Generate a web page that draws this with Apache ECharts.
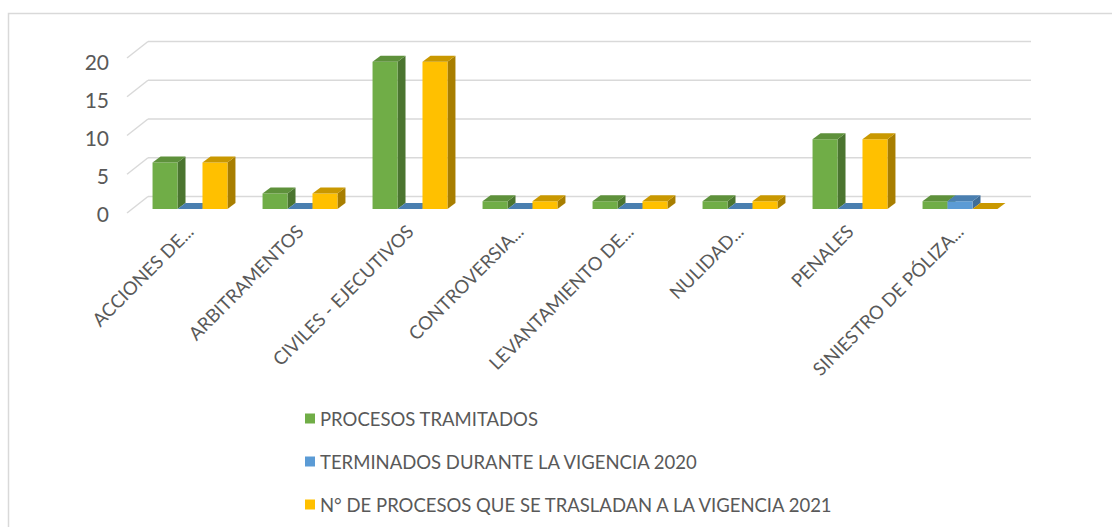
<!DOCTYPE html>
<html>
<head>
<meta charset="utf-8">
<script src="https://cdn.jsdelivr.net/npm/echarts@6/dist/echarts.min.js"></script>
<style>
  html, body { margin: 0; padding: 0; background: #fff; }
  #chart { width: 1112px; height: 527px; }
</style>
</head>
<body>
<div id="chart"></div>
<script>
const categories = [
  'ACCIONES DE...',
  'ARBITRAMENTOS',
  'CIVILES - EJECUTIVOS',
  'CONTROVERSIA...',
  'LEVANTAMIENTO DE...',
  'NULIDAD...',
  'PENALES',
  'SINIESTRO DE PÓLIZA...',
];
const tramitados = [6, 2, 19, 1, 1, 1, 9, 1];
const terminados = [0, 0, 0, 0, 0, 0, 0, 1];
const trasladan = [6, 2, 19, 1, 1, 1, 9, 0];
const yTicks = [0, 5, 10, 15, 20];

const seriesNames = [
  'PROCESOS TRAMITADOS',
  'TERMINADOS DURANTE LA VIGENCIA 2020',
  'N° DE PROCESOS QUE SE TRASLADAN A LA VIGENCIA 2021',
];
// front, side, top
const shades = [
  ['#70AD47', '#4B7530', '#5E913B'],
  ['#5B9BD5', '#3F6D97', '#4A7FB0'],
  ['#FFC000', '#A87E00', '#C99800'],
];

const DX = 8, DY = 6;
const FONT = 'Lato';

function prism(slot) {
  return function (params, api) {
    const cat = api.value(0);
    const val = api.value(1);
    const base = api.coord([cat, 0]);
    const top = api.coord([cat, val]);
    const bw = api.size([1, 0])[0] * 0.227;
    const x0 = base[0] + (slot - 1.5) * bw;
    const x1 = x0 + bw;
    const yb = base[1], yt = top[1];
    const c = shades[slot];
    const children = [];
    if (yb - yt > 0.5) {
      children.push({
        type: 'polygon',
        shape: { points: [[x1, yt], [x1 + DX, yt - DY], [x1 + DX, yb - DY], [x1, yb]] },
        style: { fill: c[1] },
      });
      children.push({
        type: 'rect',
        shape: { x: x0, y: yt, width: bw, height: yb - yt },
        style: { fill: c[0] },
      });
    }
    children.push({
      type: 'polygon',
      shape: { points: [[x0, yt], [x0 + DX, yt - DY], [x1 + DX, yt - DY], [x1, yt]] },
      style: { fill: c[2] },
    });
    return { type: 'group', children };
  };
}

// back wall gridline + floor slant + front tick label
function gridWall(params, api) {
  const cs = params.coordSys;
  const v = api.value(1);
  const y = api.coord([0, v])[1];
  return {
    type: 'group',
    children: [
      {
        type: 'line',
        shape: { x1: cs.x + 13, y1: y - 12.5, x2: cs.x + cs.width + 16, y2: y - 12.5 },
        style: { stroke: '#d9d9d9', lineWidth: 1.5 },
      },
      {
        type: 'line',
        shape: { x1: cs.x - 8, y1: y + 4, x2: cs.x + 13, y2: y - 12.5 },
        style: { stroke: '#d9d9d9', lineWidth: 1.5 },
      },
      {
        type: 'text',
        style: {
          text: String(v),
          x: cs.x - 26,
          y: y + 4 + (v / 20) * 3,
          align: 'right',
          verticalAlign: 'middle',
          fontSize: 21,
          fontFamily: FONT,
          fill: '#595959',
        },
      },
    ],
  };
}

const chart = echarts.init(document.getElementById('chart'), null, { renderer: 'svg' });

chart.setOption({
  backgroundColor: '#ffffff',
  animation: false,
  textStyle: { fontFamily: FONT },
  graphic: [
    {
      type: 'rect',
      left: 6, top: 11,
      shape: { width: 1200, height: 600 },
      style: { fill: 'none', stroke: '#d9d9d9', lineWidth: 1.5 },
      silent: true,
    },
  ],
  grid: { left: 135, right: 97, top: 54, bottom: 318 },
  xAxis: {
    type: 'category',
    data: categories,
    axisLine: { show: false },
    axisTick: { show: false },
    axisLabel: {
      rotate: 45,
      interval: 0,
      margin: 19,
      fontSize: 18.5,
      color: '#595959',
      fontFamily: FONT,
    },
  },
  yAxis: {
    type: 'value',
    min: 0,
    max: 20,
    interval: 5,
    axisLine: { show: false },
    axisTick: { show: false },
    splitLine: { show: false },
    axisLabel: { show: false },
  },
  legend: {
    orient: 'vertical',
    left: 300,
    top: 404,
    itemWidth: 10,
    itemHeight: 10,
    itemGap: 24,
    icon: 'rect',
    textStyle: { fontSize: 18.5, color: '#595959', fontFamily: FONT },
    data: seriesNames,
  },
  series: [
    {
      type: 'custom',
      name: 'grid',
      renderItem: gridWall,
      data: yTicks.map((v) => [0, v]),
      encode: { x: 0, y: 1 },
      z: 1,
      silent: true,
    },
    {
      type: 'custom',
      name: seriesNames[0],
      renderItem: prism(0),
      itemStyle: { color: shades[0][0] },
      data: tramitados.map((v, i) => [i, v]),
      encode: { x: 0, y: 1 },
      z: 2,
    },
    {
      type: 'custom',
      name: seriesNames[1],
      renderItem: prism(1),
      itemStyle: { color: shades[1][0] },
      data: terminados.map((v, i) => [i, v]),
      encode: { x: 0, y: 1 },
      z: 3,
    },
    {
      type: 'custom',
      name: seriesNames[2],
      renderItem: prism(2),
      itemStyle: { color: shades[2][0] },
      data: trasladan.map((v, i) => [i, v]),
      encode: { x: 0, y: 1 },
      z: 4,
    },
  ],
});
</script>
</body>
</html>
